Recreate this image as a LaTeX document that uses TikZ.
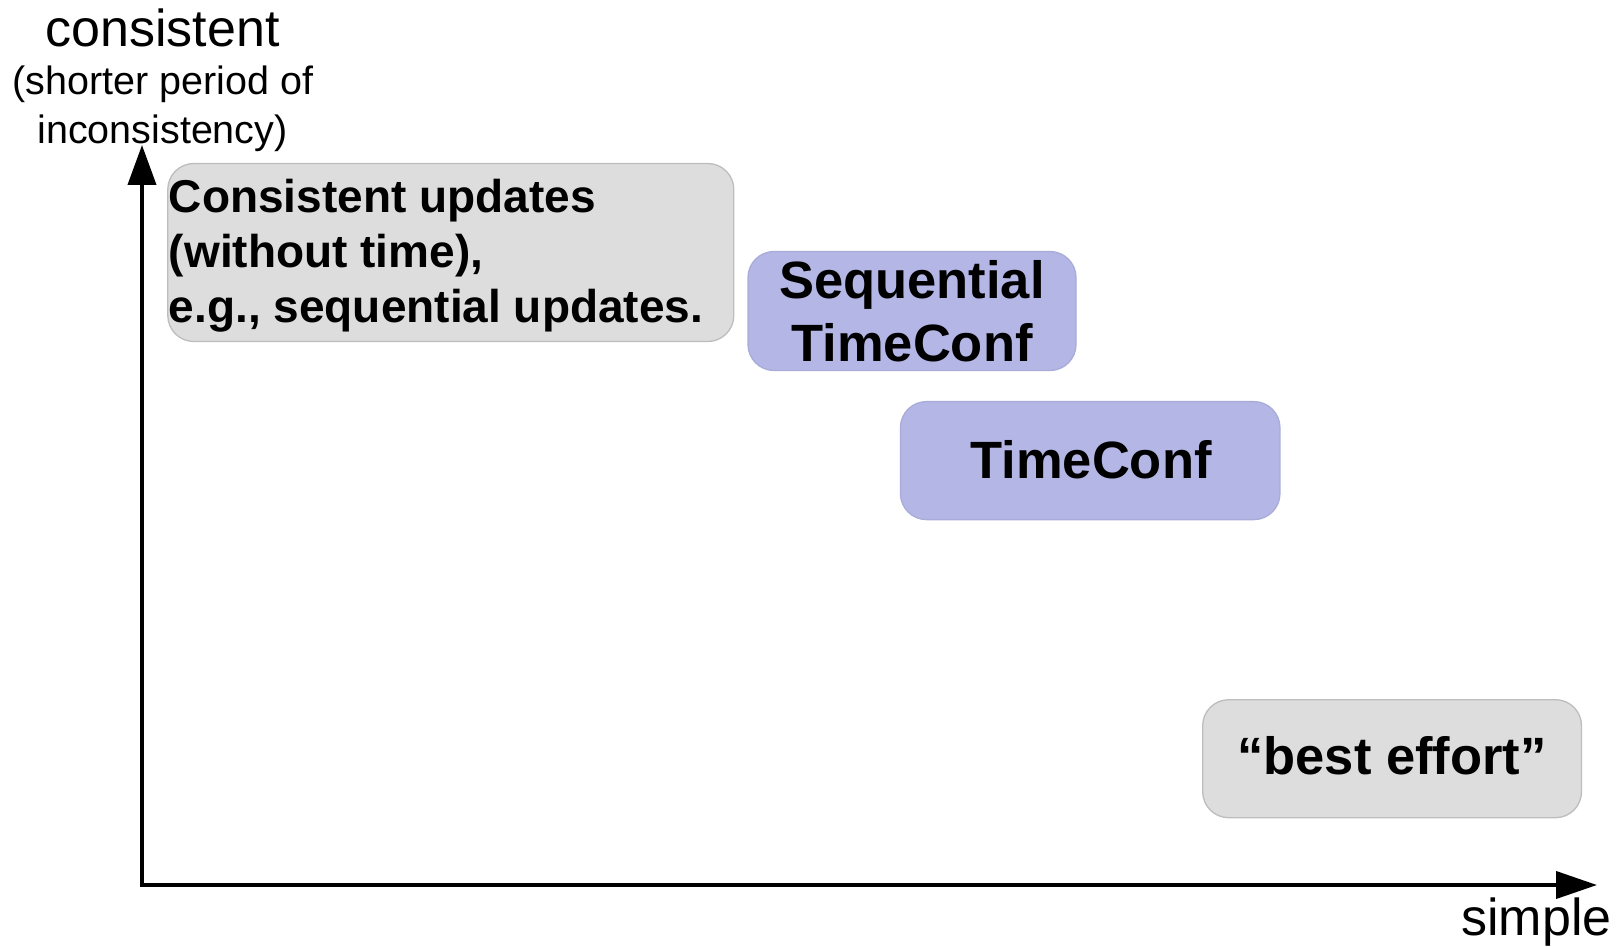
\documentclass[tikz,border=0pt]{standalone}
\usepackage{fontspec}
\setmainfont{Liberation Sans}
\usetikzlibrary{arrows.meta}
\definecolor{boxgray}{HTML}{DDDDDD}
\definecolor{boxedge}{HTML}{BDBDBD}
\definecolor{boxblue}{HTML}{B4B7E5}
\definecolor{blueedge}{HTML}{A9ACD8}
\tikzset{
  box/.style={draw=boxedge, line width=1.3pt, rounded corners=26pt, inner sep=0pt},
  graybox/.style={box, fill=boxgray},
  bluebox/.style={box, fill=boxblue, draw=blueedge},
  smalltxt/.style={inner sep=0pt, anchor=base, font=\fontsize{39.5}{48}\selectfont},
  bigtxt/.style={inner sep=0pt, anchor=base, font=\fontsize{52}{60}\selectfont},
  boldtxt/.style={inner sep=0pt, anchor=base, font=\fontsize{46}{55}\selectfont\bfseries},
  headtxt/.style={inner sep=0pt, anchor=base, font=\fontsize{52.5}{63}\selectfont\bfseries},
  axis/.style={line width=4pt, line join=miter,
    {Triangle[length=40pt,width=28pt]}-{Triangle[length=41pt,width=27pt]}}
}
\begin{document}
\begin{tikzpicture}[x=1pt, y=-1pt]
  \useasboundingbox (0,0) rectangle (1623,947);

  % axes
  \coordinate (origin) at (142,885);
  \coordinate (ytip) at (142,145);
  \coordinate (xtip) at (1597,885);
  \draw[axis] (ytip) -- (origin) -- (xtip);

  % axis labels
  \node[bigtxt] (ylab) at (162.5,46.6) {consistent};
  \node[smalltxt] (ylab2) at (163,95) {(shorter period of};
  \node[smalltxt] (ylab3) at (162.5,144) {inconsistency)};
  \node[bigtxt] (xlab) at (1536.5,935) {simple};

  % consistent updates without time
  \node[graybox, minimum width=566pt, minimum height=178pt] (cu) at (450.8,252.5) {};
  \node[boldtxt, anchor=base west] (cu1) at (168.7,212) {Consistent updates};
  \node[boldtxt, anchor=base west] (cu2) at (168.7,267) {(without time),};
  \node[boldtxt, anchor=base west] (cu3) at (168.7,322) {e.g., sequential updates.};

  % sequential TimeConf
  \node[bluebox, minimum width=328pt, minimum height=119pt] (seq) at (912,311) {};
  \node[headtxt] (seq1) at (912,298) {Sequential};
  \node[headtxt] (seq2) at (912,361) {TimeConf};

  % TimeConf
  \node[bluebox, minimum width=379.5pt, minimum height=118pt] (tc) at (1090.2,460.6) {};
  \node[headtxt] (tc1) at (1091,478) {TimeConf};

  % best effort
  \node[graybox, minimum width=378.8pt, minimum height=118pt] (be) at (1392.1,758.7) {};
  \node[headtxt] (be1) at (1392,774) {“best effort”};
\end{tikzpicture}
\end{document}
